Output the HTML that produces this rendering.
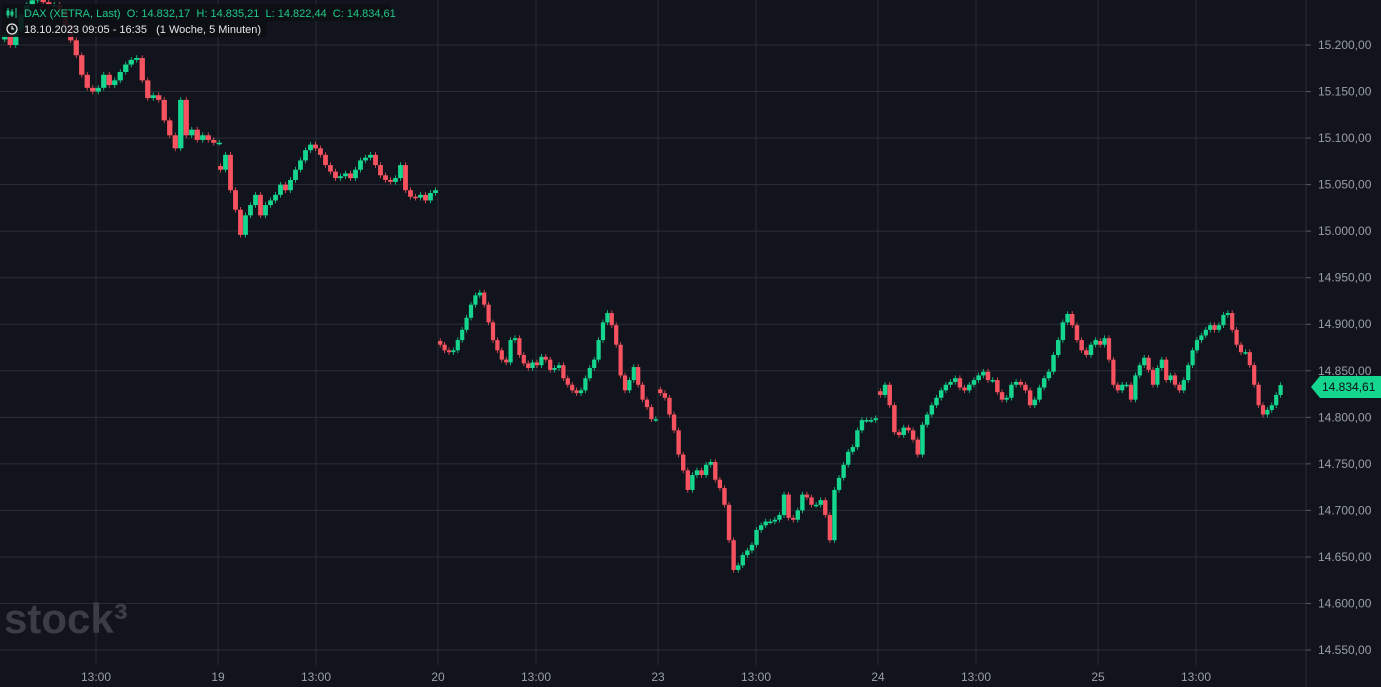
<!DOCTYPE html>
<html><head><meta charset="utf-8"><style>
html,body{margin:0;padding:0;background:#11141c;width:1381px;height:687px;overflow:hidden;font-family:"Liberation Sans",sans-serif}
text{white-space:pre}
</style></head><body>
<svg id="chart" width="1381" height="687" xmlns="http://www.w3.org/2000/svg" style="position:absolute;left:0;top:0">
<rect width="1381" height="687" fill="#11141c"/>
<g id="grid"></g>
<text x="4" y="633" font-size="42" font-weight="bold" fill="#3a3d45" font-family="Liberation Sans, sans-serif">stock³</text>
<g id="candles"></g>
<g id="yaxis"></g>
<g id="xaxis"></g>
<g>
<rect x="2" y="4" width="388" height="17" fill="#0c0f15" opacity="0.9"/>
<rect x="2" y="21" width="265" height="16" fill="#0c0f15" opacity="0.9"/>
<g stroke="#20c987" stroke-width="1" fill="none"><line x1="8" y1="8" x2="8" y2="18"/><line x1="12" y1="9" x2="12" y2="17"/><line x1="16" y1="8" x2="16" y2="18"/><rect x="7" y="11" width="2" height="4"/><rect x="11" y="12" width="2" height="3"/></g>
<text x="24" y="17" font-size="11" fill="#20c987">DAX (XETRA, Last)  O: 14.832,17  H: 14.835,21  L: 14.822,44  C: 14.834,61</text>
<circle cx="12" cy="29" r="5" fill="none" stroke="#e6e6e6" stroke-width="1.3"/>
<path d="M12 26v3h2" stroke="#e6e6e6" stroke-width="1.2" fill="none"/>
<text x="24" y="33" font-size="11" fill="#e6e6e6">18.10.2023 09:05 - 16:35   (1 Woche, 5 Minuten)</text>
</g>
<g>
<polygon points="1311,387 1320,376 1381,376 1381,398 1320,398" fill="#15d68f"/>
<text x="1322" y="391" font-size="12" fill="#0c0f15">14.834,61</text>
</g>
</svg>
<script>
const dayLabels=["18","19","20","23","24","25"];
const day18=[15211,15200,15216,15232,15243,15248,15252,15246,15243,15243,15238,15221,15205,15189,15168,15154,15150,15154,15168,15157,15162,15171,15179,15184,15186,15162,15143,15146,15141,15119,15103,15089,15141,15103,15109,15098,15103,15098,15095,15095];
const day19=[15066,15082,15044,15023,14996,15017,15028,15039,15017,15028,15033,15039,15050,15044,15055,15066,15076,15087,15093,15089,15082,15071,15064,15057,15059,15062,15057,15066,15076,15079,15082,15071,15060,15055,15053,15057,15071,15044,15037,15036,15039,15033,15041,15044];
const day20=[14878,14872,14870,14872,14883,14894,14907,14921,14931,14934,14921,14902,14883,14872,14862,14859,14883,14885,14867,14858,14853,14859,14856,14865,14862,14851,14853,14856,14842,14835,14829,14826,14829,14842,14853,14862,14883,14902,14912,14899,14878,14845,14829,14840,14854,14835,14819,14811,14798,14798];
const day23=[14826,14821,14803,14786,14760,14743,14722,14738,14743,14738,14749,14752,14733,14724,14706,14668,14636,14641,14652,14657,14663,14679,14684,14688,14688,14690,14695,14717,14692,14690,14700,14717,14714,14706,14706,14711,14695,14668,14722,14735,14749,14763,14768,14786,14797,14797,14797,14799];
const day24=[14824,14835,14813,14784,14781,14789,14786,14776,14760,14792,14803,14813,14821,14829,14835,14838,14842,14832,14829,14835,14840,14845,14849,14840,14840,14827,14819,14821,14835,14838,14835,14829,14813,14819,14832,14842,14849,14867,14883,14902,14911,14899,14883,14872,14867,14878,14883];
const day25=[14878,14885,14862,14835,14829,14835,14835,14819,14845,14856,14864,14851,14835,14853,14862,14840,14845,14835,14829,14840,14856,14872,14883,14888,14894,14899,14894,14899,14910,14912,14894,14878,14870,14870,14856,14835,14813,14803,14808,14813,14824,14834.61];
const yTicks=[15200,15150,15100,15050,15000,14950,14900,14850,14800,14750,14700,14650,14600,14550];
const xTickLabels=["13:00","19","13:00","20","13:00","23","13:00","24","13:00","25","13:00"];

const NS="http://www.w3.org/2000/svg";
const Y=v=>45+(15200-v)*0.9308;
const dayStart=i=>-2+i*220;
const days=[day18,day19,day20,day23,day24,day25];
function mk(t,a,p){const e=document.createElementNS(NS,t);for(const k in a)e.setAttribute(k,a[k]);p.appendChild(e);return e;}
const grid=document.getElementById('grid'),ya=document.getElementById('yaxis'),xa=document.getElementById('xaxis'),cg=document.getElementById('candles');
yTicks.forEach(v=>{
  const l=mk('line',{x1:0,x2:1306,y1:Y(v),y2:Y(v),stroke:'#2a2d35','stroke-width':1},grid);
  
  
  mk('line',{x1:1306,x2:1311,y1:Y(v),y2:Y(v),stroke:'#555962'},ya);
  const t=mk('text',{x:1318,y:Y(v)+4,'font-size':12,fill:'#9a9ea6'},ya);
  t.textContent=v.toLocaleString('de-DE',{minimumFractionDigits:2});
  
  
});
mk('line',{x1:1306,x2:1306,y1:0,y2:687,stroke:'#2a2d35'},grid);
xTickLabels.forEach((lab,i)=>{
  const xx = i%2===0 ? 96+(i/2)*220 : 218+((i-1)/2)*220;
  mk('line',{x1:xx,x2:xx,y1:0,y2:665,stroke:'#2a2d35'},grid);
  const t=mk('text',{x:xx,y:681,'font-size':12,fill:'#9a9ea6','text-anchor':'middle'},xa);
  t.textContent=lab;
  
  
});
days.forEach((arr,di)=>{
  const n = di===5 ? 50 : arr.length;
  const step=220/n;
  let prev = arr[0]+ (di===0?-5:4);
  arr.forEach((c,i)=>{
    const o=prev, x=dayStart(di)+ (di===0?4:0) + (i+0.5)*step;
    const up=c>=o, col=up?'#15d68f':'#f7525f';
    const hi=Math.max(o,c)+3, lo=Math.min(o,c)-3;
    mk('line',{x1:x,x2:x,y1:Y(hi),y2:Y(lo),stroke:col,'stroke-width':0.8},cg);
    const bw=Math.max(3,step-0.2);
    const r=mk('rect',{x:x-bw/2,y:Y(Math.max(o,c)),width:bw,height:Math.max(1.5,Math.abs(Y(o)-Y(c))),fill:col},cg);
    
    
    prev=c;
  });
});
</script>
</body></html>
